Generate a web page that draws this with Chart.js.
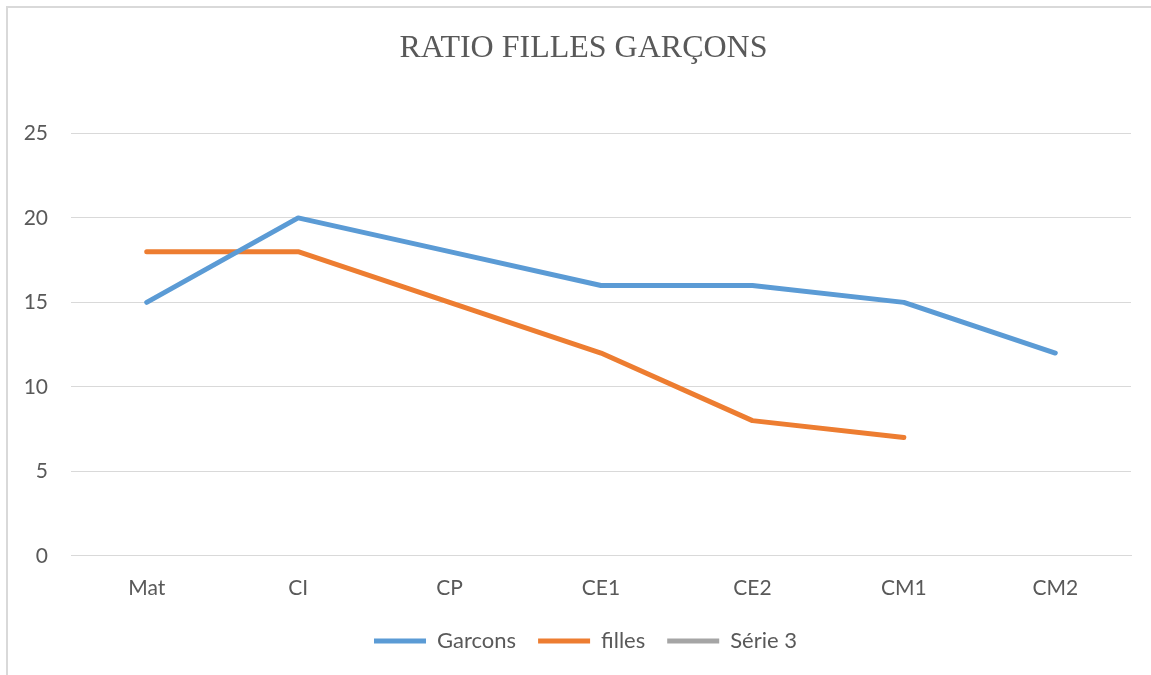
<!DOCTYPE html>
<html>
<head>
<meta charset="utf-8">
<script src="https://cdn.jsdelivr.net/npm/chart.js@4"></script>
<style>
  html, body { margin: 0; padding: 0; background: #fff; }
  #wrap { position: relative; width: 1151px; height: 675px; }
  #frame { position: absolute; left: 6px; top: 6px; right: 0; bottom: 0;
           border-left: 2px solid #d9d9d9; border-top: 2px solid #d9d9d9; }
  #myChart { position: absolute; left: 0; top: 0; }
</style>
</head>
<body>
<div id="wrap">
  <div id="frame"></div>
  <canvas id="myChart" width="1151" height="675"></canvas>
</div>
<script>
var labels = ['Mat', 'CI', 'CP', 'CE1', 'CE2', 'CM1', 'CM2'];
var garcons = [15, 20, 18, 16, 16, 15, 12];
var filles = [18, 18, 15, 12, 8, 7, null];
var serie3 = [null, null, null, null, null, null, null];
var yTicks = [0, 5, 10, 15, 20, 25];

// the original chart frame is wider than the crop, so title and legend sit a bit right of the plot centre
var shiftBlocks = {
    id: 'shiftBlocks',
    afterLayout: function(chart) {
        if (chart.titleBlock) { chart.titleBlock.left += 18; chart.titleBlock.right += 18; }
        if (chart.legend) { chart.legend.left += 20; chart.legend.right += 20; }
    }
};

var ctx = document.getElementById('myChart').getContext('2d');
var chart = new Chart(ctx, {
    type: 'line',
    data: {
        labels: labels,
        datasets: [{
            label: 'Garcons',
            borderColor: '#5b9bd5',
            backgroundColor: '#5b9bd5',
            borderWidth: 5,
            borderCapStyle: 'round',
            data: garcons
        }, {
            label: 'filles',
            borderColor: '#ed7d31',
            backgroundColor: '#ed7d31',
            borderWidth: 5,
            borderCapStyle: 'round',
            data: filles
        }, {
            label: 'Série 3',
            borderColor: '#a5a5a5',
            backgroundColor: '#a5a5a5',
            borderWidth: 5,
            borderCapStyle: 'round',
            data: serie3
        }]
    },
    plugins: [shiftBlocks],
    options: {
        responsive: false,
        animation: false,
        elements: {
            line: { tension: 0, borderJoinStyle: 'round' },
            point: { radius: 0, hoverRadius: 0 }
        },
        layout: { padding: { left: 0, right: 20, top: 0, bottom: 13 } },
        plugins: {
            title: {
                display: true,
                text: 'RATIO FILLES GARÇONS',
                color: '#595959',
                font: { family: '"Liberation Serif", "Times New Roman", serif', size: 32, weight: 'normal' },
                padding: { top: 29, bottom: 66 }
            },
            legend: {
                position: 'bottom',
                labels: {
                    usePointStyle: true,
                    pointStyle: 'line',
                    pointStyleWidth: 52,
                    color: '#595959',
                    padding: 22,
                    font: { family: 'Lato, "Open Sans", sans-serif', size: 22 }
                }
            },
            tooltip: { enabled: false }
        },
        scales: {
            x: {
                offset: true,
                afterFit: function(scale) { scale.height = scale.height - 13; },
                grid: { display: false, drawTicks: false },
                border: { display: true, color: '#d9d9d9', width: 1 },
                ticks: { color: '#595959', padding: 20, font: { family: 'Lato, "Open Sans", sans-serif', size: 21 } }
            },
            y: {
                min: 0,
                max: 25,
                afterBuildTicks: function(scale) { scale.ticks = yTicks.map(function(v) { return { value: v }; }); },
                afterFit: function(scale) { scale.width = 71; },
                grid: { color: '#d9d9d9', drawTicks: false },
                border: { display: false },
                ticks: { color: '#595959', padding: 23, font: { family: 'Lato, "Open Sans", sans-serif', size: 21 } }
            }
        }
    }
});
</script>
</body>
</html>
